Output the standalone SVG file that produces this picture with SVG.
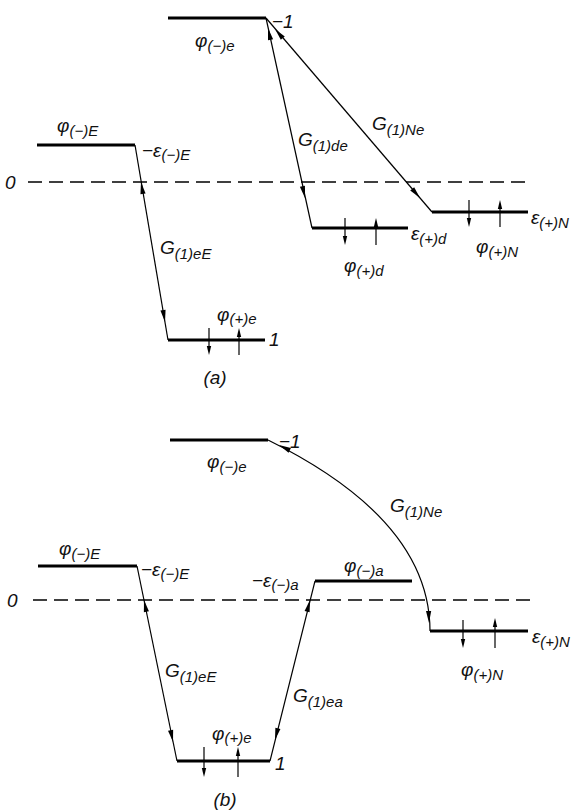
<svg xmlns="http://www.w3.org/2000/svg" width="581" height="810" viewBox="0 0 581 810">
<style>
.lv{stroke:#000;stroke-width:3;fill:none}
.dash{stroke:#000;stroke-width:1.5;stroke-dasharray:14 7;fill:none}
.cn{stroke:#000;stroke-width:1.2;fill:none}
.sp{stroke:#000;stroke-width:1.2;fill:none}
.t{font-family:"Liberation Sans",Arial,sans-serif;font-style:italic;font-size:19px;fill:#111}
.s{font-size:15px}
</style>
<defs>
<polygon id="ah" points="0,0 -12,-2.6 -12,2.6" fill="#000"/>
<polygon id="sh" points="0,0 -9,-2.2 -9,2.2" fill="#000"/>
</defs>
<rect width="581" height="810" fill="#fff"/>

<!-- ===== (a) ===== -->
<g id="a-zero">
<text class="t" x="5" y="189">0</text>
<line class="dash" x1="28" y1="182" x2="532" y2="182"/>
</g>
<g id="a-phi-minus-e">
<line class="lv" x1="168" y1="18" x2="266" y2="18"/>
<text class="t" x="272" y="28">−1</text>
<text class="t" x="195" y="47">φ<tspan class="s" dy="4">(−)e</tspan></text>
</g>
<g id="a-phi-minus-E">
<line class="lv" x1="37" y1="145" x2="135" y2="145"/>
<text class="t" x="57" y="132">φ<tspan class="s" dy="4">(−)E</tspan></text>
<text class="t" x="142" y="157">−ε<tspan class="s" dy="3">(−)E</tspan></text>
</g>
<g id="a-level-1">
<line class="lv" x1="168" y1="340" x2="265" y2="340"/>
<text class="t" x="269" y="346">1</text>
<text class="t" x="217" y="321">φ<tspan class="s" dy="3">(+)e</tspan></text>
<line class="sp" x1="209" y1="328" x2="209" y2="350"/>
<use href="#sh" transform="translate(209,355) rotate(90)"/>
<line class="sp" x1="239" y1="355" x2="239" y2="333"/>
<use href="#sh" transform="translate(239,328) rotate(-90)"/>
<text class="t" x="215" y="384" text-anchor="middle">(a)</text>
</g>
<g id="a-eps-plus-d">
<line class="lv" x1="312" y1="228" x2="408" y2="228"/>
<text class="t" x="411" y="240">ε<tspan class="s" dy="4">(+)d</tspan></text>
<text class="t" x="344" y="272">φ<tspan class="s" dy="4">(+)d</tspan></text>
<line class="sp" x1="345" y1="218" x2="345" y2="240"/>
<use href="#sh" transform="translate(345,245) rotate(90)"/>
<line class="sp" x1="376" y1="245" x2="376" y2="223"/>
<use href="#sh" transform="translate(376,218) rotate(-90)"/>
</g>
<g id="a-eps-plus-N">
<line class="lv" x1="432" y1="212" x2="528" y2="212"/>
<text class="t" x="531" y="224">ε<tspan class="s" dy="4">(+)N</tspan></text>
<text class="t" x="476" y="253">φ<tspan class="s" dy="4">(+)N</tspan></text>
<line class="sp" x1="469" y1="200" x2="469" y2="222"/>
<use href="#sh" transform="translate(469,227) rotate(90)"/>
<line class="sp" x1="500" y1="227" x2="500" y2="205"/>
<use href="#sh" transform="translate(500,200) rotate(-90)"/>
</g>

<!-- ===== (b) ===== -->
<g id="b-zero">
<text class="t" x="7" y="607">0</text>
<line class="dash" x1="33" y1="600" x2="535" y2="600"/>
</g>
<g id="b-phi-minus-e">
<line class="lv" x1="170" y1="440" x2="268" y2="440"/>
<text class="t" x="279" y="448">−1</text>
<text class="t" x="207" y="468">φ<tspan class="s" dy="4">(−)e</tspan></text>
</g>
<g id="b-phi-minus-E">
<line class="lv" x1="38" y1="566" x2="137" y2="566"/>
<text class="t" x="59" y="555">φ<tspan class="s" dy="4">(−)E</tspan></text>
<text class="t" x="141" y="576">−ε<tspan class="s" dy="3">(−)E</tspan></text>
</g>
<g id="b-phi-minus-a">
<line class="lv" x1="315" y1="581" x2="412" y2="581"/>
<text class="t" x="252" y="587">−ε<tspan class="s" dy="3">(−)a</tspan></text>
<text class="t" x="344" y="572">φ<tspan class="s" dy="4">(−)a</tspan></text>
</g>
<g id="b-level-1">
<line class="lv" x1="177" y1="761" x2="270" y2="761"/>
<text class="t" x="275" y="770">1</text>
<text class="t" x="212" y="740">φ<tspan class="s" dy="3">(+)e</tspan></text>
<line class="sp" x1="204" y1="747" x2="204" y2="772"/>
<use href="#sh" transform="translate(204,777) rotate(90)"/>
<line class="sp" x1="238" y1="777" x2="238" y2="752"/>
<use href="#sh" transform="translate(238,747) rotate(-90)"/>
<text class="t" x="225" y="806" text-anchor="middle">(b)</text>
</g>
<g id="b-eps-plus-N">
<line class="lv" x1="430" y1="631" x2="528" y2="631"/>
<text class="t" x="532" y="643">ε<tspan class="s" dy="4">(+)N</tspan></text>
<text class="t" x="461" y="676">φ<tspan class="s" dy="4">(+)N</tspan></text>
<line class="sp" x1="463" y1="620" x2="463" y2="643"/>
<use href="#sh" transform="translate(463,648) rotate(90)"/>
<line class="sp" x1="495" y1="648" x2="495" y2="623"/>
<use href="#sh" transform="translate(495,618) rotate(-90)"/>
</g>

<!-- ===== connectors ===== -->
<g id="connectors">
<!-- (a) G(1)eE -->
<line class="cn" x1="135" y1="145" x2="168" y2="340"/>
<use href="#ah" transform="translate(141,182) rotate(-99.6)"/>
<use href="#ah" transform="translate(165,322) rotate(80.4)"/>
<text class="t" x="160" y="254">G<tspan class="s" dy="5">(1)eE</tspan></text>
<!-- (a) G(1)de -->
<line class="cn" x1="266" y1="18" x2="312" y2="228"/>
<use href="#ah" transform="translate(268,28) rotate(-102.4)"/>
<use href="#ah" transform="translate(305,198) rotate(77.6)"/>
<text class="t" x="298" y="146">G<tspan class="s" dy="5">(1)de</tspan></text>
<!-- (a) G(1)Ne -->
<line class="cn" x1="266" y1="18" x2="432" y2="212"/>
<use href="#ah" transform="translate(275,29) rotate(-130.5)"/>
<use href="#ah" transform="translate(420,198) rotate(49.5)"/>
<text class="t" x="372" y="130">G<tspan class="s" dy="5">(1)Ne</tspan></text>
<!-- (b) G(1)eE -->
<line class="cn" x1="137" y1="566" x2="177" y2="761"/>
<use href="#ah" transform="translate(144,600) rotate(-101.6)"/>
<use href="#ah" transform="translate(173,742) rotate(78.4)"/>
<text class="t" x="165" y="677">G<tspan class="s" dy="5">(1)eE</tspan></text>
<!-- (b) G(1)ea -->
<line class="cn" x1="270" y1="761" x2="315" y2="581"/>
<use href="#ah" transform="translate(310,600) rotate(-76)"/>
<use href="#ah" transform="translate(275,740) rotate(104)"/>
<text class="t" x="293" y="702">G<tspan class="s" dy="5">(1)ea</tspan></text>
<!-- (b) G(1)Ne curved -->
<path class="cn" d="M268,440 Q430,520 430,631"/>
<use href="#ah" transform="translate(279,445) rotate(-153.5)"/>
<use href="#ah" transform="translate(429,623) rotate(88)"/>
<text class="t" x="390" y="512">G<tspan class="s" dy="5">(1)Ne</tspan></text>
</g>
</svg>
